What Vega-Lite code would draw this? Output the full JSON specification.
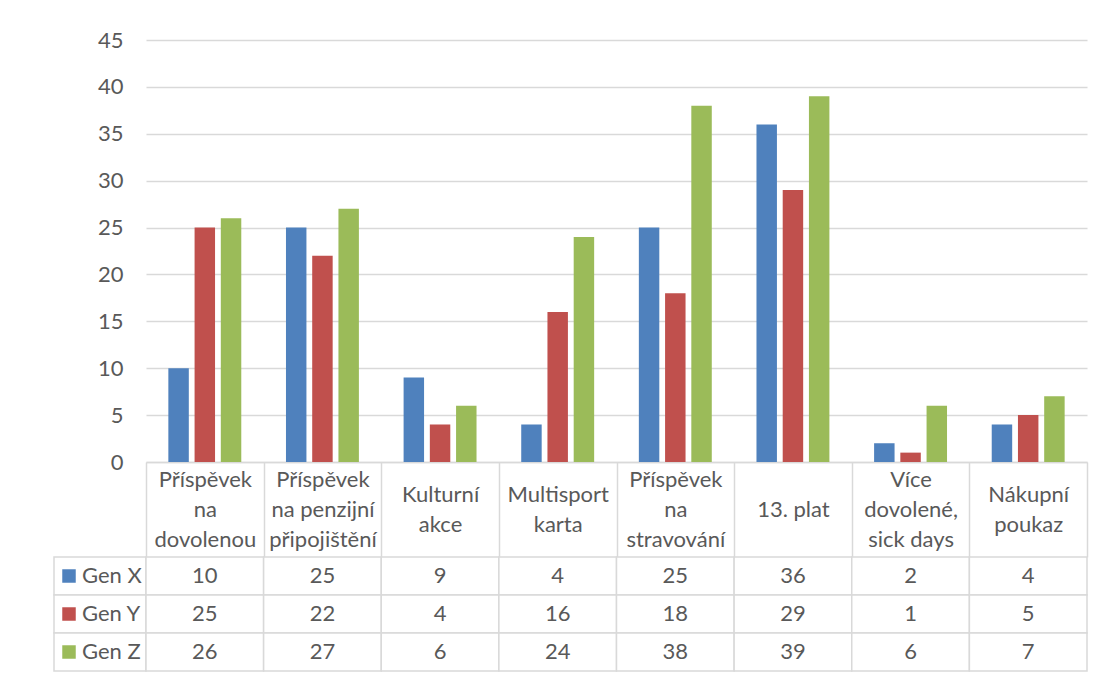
{
  "$schema": "https://vega.github.io/schema/vega-lite/v6.json",
  "padding": {"left": 53, "top": 29, "right": 10, "bottom": 5},
  "background": "white",
  "config": {
    "font": "Lato",
    "view": {"stroke": null},
    "axis": {"labelFont": "Lato", "labelFontSize": 22, "labelColor": "#595959"}
  },
  "datasets": {
    "d": [
      {"cat": "Příspěvek na dovolenou", "series": "Gen X", "value": 10},
      {"cat": "Příspěvek na dovolenou", "series": "Gen Y", "value": 25},
      {"cat": "Příspěvek na dovolenou", "series": "Gen Z", "value": 26},
      {"cat": "Příspěvek na penzijní připojištění", "series": "Gen X", "value": 25},
      {"cat": "Příspěvek na penzijní připojištění", "series": "Gen Y", "value": 22},
      {"cat": "Příspěvek na penzijní připojištění", "series": "Gen Z", "value": 27},
      {"cat": "Kulturní akce", "series": "Gen X", "value": 9},
      {"cat": "Kulturní akce", "series": "Gen Y", "value": 4},
      {"cat": "Kulturní akce", "series": "Gen Z", "value": 6},
      {"cat": "Multisport karta", "series": "Gen X", "value": 4},
      {"cat": "Multisport karta", "series": "Gen Y", "value": 16},
      {"cat": "Multisport karta", "series": "Gen Z", "value": 24},
      {"cat": "Příspěvek na stravování", "series": "Gen X", "value": 25},
      {"cat": "Příspěvek na stravování", "series": "Gen Y", "value": 18},
      {"cat": "Příspěvek na stravování", "series": "Gen Z", "value": 38},
      {"cat": "13. plat", "series": "Gen X", "value": 36},
      {"cat": "13. plat", "series": "Gen Y", "value": 29},
      {"cat": "13. plat", "series": "Gen Z", "value": 39},
      {"cat": "Více dovolené, sick days", "series": "Gen X", "value": 2},
      {"cat": "Více dovolené, sick days", "series": "Gen Y", "value": 1},
      {"cat": "Více dovolené, sick days", "series": "Gen Z", "value": 6},
      {"cat": "Nákupní poukaz", "series": "Gen X", "value": 4},
      {"cat": "Nákupní poukaz", "series": "Gen Y", "value": 5},
      {"cat": "Nákupní poukaz", "series": "Gen Z", "value": 7}
    ],
    "s": [
      {"series": "Gen X"},
      {"series": "Gen Y"},
      {"series": "Gen Z"}
    ]
  },
  "columns": 2,
  "bounds": "flush",
  "spacing": {"row": 95, "column": 0},
  "concat": [
    {
      "width": 92,
      "height": 422,
      "data": {"values": [{}]},
      "mark": {"type": "point", "opacity": 0}
    },
    {
      "width": 941,
      "height": 422,
      "data": {"name": "d"},
      "mark": {"type": "bar"},
      "encoding": {
        "x": {
          "field": "cat",
          "type": "nominal",
          "sort": null,
          "scale": {"paddingInner": 0, "paddingOuter": 0},
          "axis": {
            "title": null,
            "domain": true,
            "domainColor": "#d9d9d9",
            "domainWidth": 1.5,
            "ticks": true,
            "tickBand": "extent",
            "tickSize": 95,
            "tickColor": "#d9d9d9",
            "tickWidth": 1.5,
            "grid": false,
            "labelAngle": 0,
            "labelAlign": "center",
            "labelBaseline": "middle",
            "labelPadding": {
              "condition": [
                {"test": "datum.value == '13. plat'", "value": -47.5},
                {"test": "indexof(['Kulturní akce', 'Multisport karta', 'Nákupní poukaz'], datum.value) >= 0", "value": -62.5}
              ],
              "value": -77.5
            },
            "labelLineHeight": 30,
            "labelLimit": 0,
            "labelExpr": "datum.label == 'Příspěvek na penzijní připojištění' ? ['Příspěvek', 'na penzijní', 'připojištění'] : datum.label == 'Více dovolené, sick days' ? ['Více', 'dovolené,', 'sick days'] : datum.label == '13. plat' ? '13. plat' : split(datum.label, ' ')"
          }
        },
        "xOffset": {
          "field": "series",
          "type": "nominal",
          "sort": null,
          "scale": {"paddingInner": 0.22, "paddingOuter": 0.852}
        },
        "y": {
          "field": "value",
          "type": "quantitative",
          "scale": {"domain": [0, 45], "nice": false},
          "axis": {
            "title": null,
            "values": [0, 5, 10, 15, 20, 25, 30, 35, 40, 45],
            "domain": false,
            "ticks": false,
            "grid": true,
            "gridColor": "#d9d9d9",
            "gridWidth": 1.5,
            "labelPadding": 23
          }
        },
        "color": {
          "field": "series",
          "type": "nominal",
          "scale": {"domain": ["Gen X", "Gen Y", "Gen Z"], "range": ["#4f81bd", "#c0504d", "#9bbb59"]},
          "legend": null
        }
      }
    },
    {
      "width": 92,
      "height": 114,
      "data": {"name": "s"},
      "encoding": {
        "y": {"field": "series", "type": "nominal", "sort": null, "scale": {"paddingInner": 0, "paddingOuter": 0}, "axis": null}
      },
      "layer": [
        {"mark": {"type": "rect", "fill": "white", "stroke": "#d9d9d9", "strokeWidth": 1.5}},
        {
          "mark": {"type": "point", "shape": "square", "filled": true, "size": 182, "opacity": 1, "xOffset": -31},
          "encoding": {
            "color": {
              "field": "series",
              "type": "nominal",
              "scale": {"domain": ["Gen X", "Gen Y", "Gen Z"], "range": ["#4f81bd", "#c0504d", "#9bbb59"]},
              "legend": null
            }
          }
        },
        {
          "mark": {"type": "text", "align": "left", "baseline": "middle", "dx": -18, "fontSize": 22, "color": "#595959"},
          "encoding": {"text": {"field": "series", "type": "nominal"}}
        }
      ]
    },
    {
      "width": 941,
      "height": 114,
      "data": {"name": "d"},
      "encoding": {
        "x": {"field": "cat", "type": "nominal", "sort": null, "scale": {"paddingInner": 0, "paddingOuter": 0}, "axis": null},
        "y": {"field": "series", "type": "nominal", "sort": null, "scale": {"paddingInner": 0, "paddingOuter": 0}, "axis": null}
      },
      "layer": [
        {"mark": {"type": "rect", "fill": "white", "stroke": "#d9d9d9", "strokeWidth": 1.5}},
        {
          "mark": {"type": "text", "baseline": "middle", "fontSize": 22, "color": "#595959"},
          "encoding": {"text": {"field": "value", "type": "quantitative"}}
        }
      ]
    }
  ]
}
